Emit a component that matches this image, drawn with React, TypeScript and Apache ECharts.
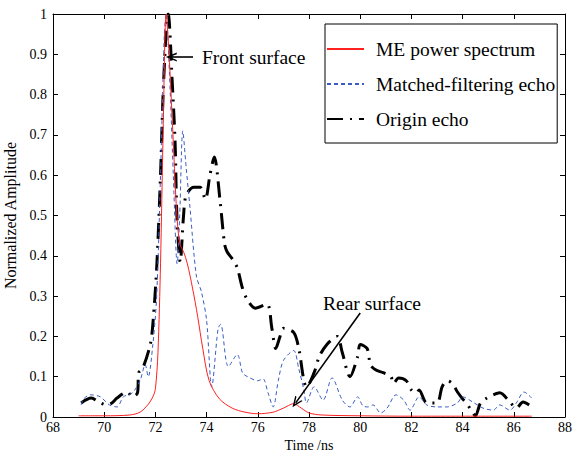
import React, { useEffect, useRef } from "react";
import * as echarts from "echarts";

const FONT = "Liberation Serif";

const xTicks = { min: 68, max: 88, interval: 2 };
const yTicks = { min: 0, max: 1, interval: 0.1 };

const seriesNames = ["ME power spectrum", "Matched-filtering echo", "Origin echo"];

const meSpectrum: [number, number][] = [
  [69.0, 0.003], [70.0, 0.003], [71.0, 0.005], [71.4, 0.012], [71.7, 0.03],
  [71.9, 0.05], [72.0, 0.07], [72.1, 0.16], [72.2, 0.38], [72.3, 0.7],
  [72.42, 1.0], [72.55, 0.88], [72.7, 0.68], [72.83, 0.51], [72.95, 0.43],
  [73.1, 0.41], [73.25, 0.38], [73.45, 0.32], [73.65, 0.25], [73.85, 0.17],
  [74.1, 0.09], [74.5, 0.045], [75.0, 0.022], [75.5, 0.012], [76.0, 0.008],
  [76.6, 0.012], [77.0, 0.022], [77.4, 0.033], [77.7, 0.022], [78.0, 0.01],
  [78.5, 0.005], [80.0, 0.003], [82.0, 0.002], [86.7, 0.002],
];

const matchedEcho: [number, number][] = [
  [69.1, 0.03], [69.2, 0.045], [69.45, 0.055], [69.85, 0.05], [70.2, 0.03],
  [70.5, 0.025], [70.75, 0.05], [71.1, 0.06], [71.4, 0.09], [71.6, 0.13],
  [71.72, 0.1], [71.9, 0.18], [72.05, 0.3], [72.2, 0.6], [72.35, 0.95],
  [72.42, 1.0], [72.55, 0.85], [72.7, 0.6], [72.85, 0.38], [72.95, 0.5],
  [73.07, 0.71], [73.2, 0.62], [73.35, 0.52], [73.6, 0.35], [73.8, 0.31],
  [74.0, 0.24], [74.2, 0.075], [74.45, 0.22], [74.55, 0.23], [74.85, 0.125],
  [75.2, 0.155], [75.4, 0.11], [75.6, 0.1], [76.0, 0.09], [76.2, 0.095],
  [76.4, 0.06], [76.6, 0.025], [76.8, 0.09], [77.0, 0.14], [77.4, 0.165],
  [77.6, 0.12], [77.8, 0.067], [77.9, 0.035], [78.2, 0.075], [78.55, 0.042],
  [78.9, 0.097], [79.3, 0.042], [79.6, 0.025], [79.9, 0.05], [80.1, 0.028],
  [80.3, 0.025], [80.5, 0.03], [80.8, 0.01], [81.05, 0.022], [81.4, 0.055],
  [81.7, 0.042], [81.95, 0.017], [82.3, 0.05], [82.6, 0.03], [83.0, 0.025],
  [83.4, 0.025], [83.8, 0.035], [84.0, 0.05], [84.4, 0.037], [84.8, 0.022],
  [85.2, 0.017], [85.45, 0.03], [85.85, 0.017], [86.1, 0.035], [86.4, 0.062],
  [86.7, 0.047],
];

const originEcho: [number, number][] = [
  [69.1, 0.035], [69.5, 0.047], [69.8, 0.037], [70.1, 0.03], [70.3, 0.035],
  [70.5, 0.047], [70.9, 0.062], [71.1, 0.05], [71.3, 0.06], [71.35, 0.11],
  [71.5, 0.12], [71.8, 0.18], [71.9, 0.23], [72.05, 0.37], [72.2, 0.6],
  [72.3, 0.8], [72.45, 0.99], [72.5, 1.0], [72.65, 0.84], [72.77, 0.68],
  [72.84, 0.5], [72.97, 0.385], [73.1, 0.5], [73.2, 0.55], [73.5, 0.57],
  [73.75, 0.57], [73.95, 0.54], [74.13, 0.6], [74.3, 0.645], [74.52, 0.54],
  [74.7, 0.43], [74.8, 0.41], [75.03, 0.39], [75.2, 0.37], [75.4, 0.32],
  [75.6, 0.29], [75.9, 0.27], [76.36, 0.28], [76.55, 0.22], [76.7, 0.17],
  [76.87, 0.2], [77.0, 0.22], [77.4, 0.21], [77.6, 0.17], [77.8, 0.09],
  [77.9, 0.075], [78.2, 0.11], [78.4, 0.15], [78.7, 0.18], [79.1, 0.2],
  [79.3, 0.16], [79.6, 0.1], [79.9, 0.15], [80.0, 0.18], [80.27, 0.17],
  [80.4, 0.13], [80.6, 0.117], [80.9, 0.11], [81.2, 0.1], [81.3, 0.083],
  [81.5, 0.097], [81.8, 0.09], [82.0, 0.067], [82.2, 0.06], [82.3, 0.067],
  [82.6, 0.035], [83.0, 0.035], [83.2, 0.075], [83.4, 0.09], [83.6, 0.083],
  [83.8, 0.062], [84.0, 0.045], [84.2, 0.03], [84.4, 0.01], [84.5, 0.003],
  [84.7, 0.035], [84.95, 0.047], [85.2, 0.055], [85.45, 0.06], [85.85, 0.037],
  [86.1, 0.022], [86.36, 0.037], [86.6, 0.03],
];

// annotation arrows in data coordinates: [from, to]
const frontArrow: [number, number][] = [[73.47, 0.893], [72.62, 0.893]];
const rearArrow: [number, number][] = [[80.0, 0.258], [77.48, 0.035]];

const CHEVRON = "path://M0,10 L5,0 L10,10 L8.3,10 L5,3.4 L1.7,10 Z";

export default function App() {
  const ref = useRef<HTMLDivElement>(null);

  useEffect(() => {
    if (!ref.current) return;
    const chart = echarts.init(ref.current, undefined, { renderer: "svg" });

    const axisCommon = {
      axisLine: { show: true, onZero: false, lineStyle: { color: "#000", width: 1 } },
      axisTick: { show: true, inside: true, length: 5, lineStyle: { color: "#000", width: 1 } },
      splitLine: { show: false },
    };

    const arrowLine = (pts: [number, number][]) => [
      { coord: pts[0], symbol: "none" },
      { coord: pts[1], symbol: CHEVRON, symbolSize: [9, 11] },
    ];

    chart.setOption({
      animation: false,
      backgroundColor: "#fff",
      textStyle: { fontFamily: FONT },
      grid: { left: 53, right: 10, top: 14, bottom: 37, containLabel: false, outerBoundsMode: "none" },
      legend: {
        show: true,
        orient: "vertical",
        left: 325,
        top: 24,
        data: seriesNames,
        itemWidth: 37,
        itemHeight: 14,
        itemGap: 15,
        padding: [15, 2, 14, 1],
        borderColor: "#000",
        borderWidth: 1,
        backgroundColor: "#fff",
        selectedMode: false,
        itemStyle: { opacity: 0 },
        textStyle: {
          fontFamily: FONT,
          fontSize: 19.5,
          color: "#000",
          lineHeight: 20,
          padding: [0, 0, 0, 7],
        },
      },
      xAxis: [
        {
          type: "value",
          min: xTicks.min,
          max: xTicks.max,
          interval: xTicks.interval,
          position: "bottom",
          name: "Time /ns",
          nameLocation: "middle",
          nameGap: 16,
          nameTextStyle: { fontFamily: FONT, fontSize: 14, color: "#000" },
          axisLabel: { fontFamily: FONT, fontSize: 14, color: "#000", margin: 3 },
          ...axisCommon,
        },
        {
          type: "value",
          min: xTicks.min,
          max: xTicks.max,
          interval: xTicks.interval,
          position: "top",
          axisLabel: { show: false },
          ...axisCommon,
        },
      ],
      yAxis: [
        {
          type: "value",
          min: yTicks.min,
          max: yTicks.max,
          interval: yTicks.interval,
          position: "left",
          name: "Normalized Amplitude",
          nameLocation: "middle",
          nameGap: 22,
          nameTextStyle: { fontFamily: FONT, fontSize: 16, color: "#000" },
          axisLabel: { fontFamily: FONT, fontSize: 14, color: "#000", margin: 6 },
          ...axisCommon,
        },
        {
          type: "value",
          min: yTicks.min,
          max: yTicks.max,
          interval: yTicks.interval,
          position: "right",
          axisLabel: { show: false },
          ...axisCommon,
        },
      ],
      series: [
        {
          name: seriesNames[0],
          type: "line",
          data: meSpectrum,
          symbol: "none",
          smooth: 0.3,
          lineStyle: { color: "#ff2020", width: 1 },
          itemStyle: { color: "#ff2020" },
          z: 3,
          markLine: {
            silent: true,
            animation: false,
            label: { show: false },
            lineStyle: { color: "#000", width: 1.6, type: "solid" },
            emphasis: { disabled: true },
            data: [arrowLine(frontArrow), arrowLine(rearArrow)],
          },
        },
        {
          name: seriesNames[1],
          type: "line",
          data: matchedEcho,
          symbol: "none",
          smooth: 0.3,
          lineStyle: { color: "#3a5cc4", width: 1, type: [4, 3] },
          itemStyle: { color: "#3a5cc4" },
          z: 2,
        },
        {
          name: seriesNames[2],
          type: "line",
          data: originEcho,
          symbol: "none",
          smooth: 0.3,
          lineStyle: { color: "#000", width: 3, type: [16, 7, 2, 7] },
          itemStyle: { color: "#000" },
          z: 1,
        },
      ],
      graphic: [
        {
          type: "text",
          x: 202,
          y: 57,
          style: { text: "Front surface", fontFamily: FONT, fontSize: 19.5, fill: "#000", verticalAlign: "middle" },
        },
        {
          type: "text",
          x: 323,
          y: 303,
          style: { text: "Rear surface", fontFamily: FONT, fontSize: 19.5, fill: "#000", verticalAlign: "middle" },
        },
      ],
    });

    return () => chart.dispose();
  }, []);

  return (
    <div
      ref={ref}
      style={{ position: "fixed", left: 0, top: 0, width: 575, height: 454, background: "#fff" }}
    />
  );
}
